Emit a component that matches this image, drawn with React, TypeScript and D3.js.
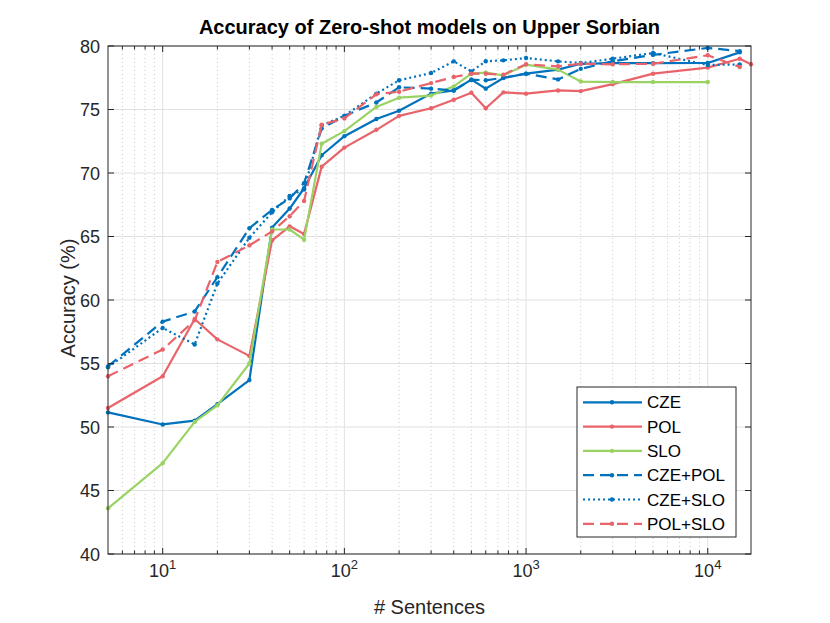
import { useEffect, useRef } from 'react';
import * as d3 from 'd3';

// number of training sentences (x)
const sentences = [5, 10, 15, 20, 30, 40, 50, 60, 75, 100, 150, 200, 300, 400, 500, 600, 750, 1000, 1500, 2000, 3000, 5000, 10000, 15000];
const sentencesPol = [...sentences, 17300];
const sentencesSlo = sentences.slice(0, 23);

// accuracy (%) per model
const cze = [51.15, 50.2, 50.5, 51.8, 53.7, 65.7, 67.2, 68.8, 71.4, 72.9, 74.25, 74.9, 76.25, 76.5, 77.35, 76.64, 77.48, 77.82, 78.14, 78.6, 78.65, 78.65, 78.66, 79.5];
const pol = [51.5, 54.0, 58.5, 56.9, 55.6, 64.7, 65.8, 65.2, 70.5, 72.0, 73.4, 74.5, 75.1, 75.77, 76.32, 75.1, 76.35, 76.25, 76.5, 76.45, 77.0, 77.82, 78.3, 79.0, 78.56];
const slo = [43.6, 47.15, 50.4, 51.7, 55.0, 65.55, 65.55, 64.75, 72.3, 73.3, 75.2, 75.93, 76.1, 76.82, 77.82, 77.9, 77.69, 78.53, 78.14, 77.2, 77.16, 77.16, 77.16];
const czePol = [54.77, 58.3, 59.1, 61.8, 65.65, 67.1, 68.0, 69.2, 73.5, 74.5, 75.55, 76.75, 76.64, 76.5, 77.35, 77.3, 77.5, 77.82, 77.37, 78.2, 78.8, 79.3, 79.85, 79.6];
const czeSlo = [54.7, 57.8, 56.5, 61.3, 64.9, 66.9, 68.2, 68.7, 73.75, 74.5, 76.25, 77.3, 77.87, 78.79, 78.0, 78.8, 78.87, 79.05, 78.79, 78.66, 79.0, 79.45, 78.5, 78.55];
const polSlo = [54.0, 56.1, 58.4, 63.0, 64.3, 65.4, 66.6, 67.8, 73.8, 74.3, 76.2, 76.4, 77.08, 77.56, 77.82, 77.82, 77.74, 78.56, 78.4, 78.6, 78.56, 78.6, 79.27, 78.35];

const legendLabels = ['CZE', 'POL', 'SLO', 'CZE+POL', 'CZE+SLO', 'POL+SLO'];
const yTicks = [40, 45, 50, 55, 60, 65, 70, 75, 80];
const xExponents = [1, 2, 3, 4];

const BLUE = '#0072BD';
const RED = '#E9636A';
const GREEN = '#9BD264';
const AX = '#262626';
const FONT = '"Liberation Sans", Arial, Helvetica, sans-serif';

export default function App() {
  const ref = useRef<SVGSVGElement>(null);

  useEffect(() => {
    if (!ref.current) return;
    const svg = d3.select(ref.current);
    svg.selectAll('*').remove();

    const left = 108, right = 751, top = 46, bottom = 554;
    const x = d3.scaleLog().domain([5, 17300]).range([left, right]);
    const y = d3.scaleLinear().domain([40, 80]).range([bottom, top]);

    svg.append('rect').attr('width', 830).attr('height', 623).attr('fill', '#fff');

    // minor x positions (log)
    const minors: number[] = [];
    for (let n = 0; n <= 4; n++) {
      for (let k = 2; k <= 9; k++) {
        const v = k * Math.pow(10, n);
        if (v > 5 && v < 17300) minors.push(v);
      }
    }
    const majors = xExponents.map(e => Math.pow(10, e));

    const grid = svg.append('g');
    grid.selectAll('line.minor')
      .data(minors)
      .enter()
      .append('line')
      .attr('x1', d => x(d)).attr('x2', d => x(d))
      .attr('y1', top).attr('y2', bottom)
      .attr('stroke', '#bdbdbd')
      .attr('stroke-width', 0.8)
      .attr('stroke-dasharray', '1,3');
    grid.selectAll('line.majx')
      .data(majors)
      .enter()
      .append('line')
      .attr('x1', d => x(d)).attr('x2', d => x(d))
      .attr('y1', top).attr('y2', bottom)
      .attr('stroke', '#e1e1e1')
      .attr('stroke-width', 1);
    grid.selectAll('line.majy')
      .data(yTicks)
      .enter()
      .append('line')
      .attr('x1', left).attr('x2', right)
      .attr('y1', d => y(d)).attr('y2', d => y(d))
      .attr('stroke', '#e1e1e1')
      .attr('stroke-width', 1);

    // series
    const series = [
      { xs: sentences, ys: cze, color: BLUE, dash: null },
      { xs: sentencesPol, ys: pol, color: RED, dash: null },
      { xs: sentencesSlo, ys: slo, color: GREEN, dash: null },
      { xs: sentences, ys: czePol, color: BLUE, dash: '11,6' },
      { xs: sentences, ys: czeSlo, color: BLUE, dash: '2,3' },
      { xs: sentences, ys: polSlo, color: RED, dash: '11,6' },
    ];
    const line = d3.line<[number, number]>().x(d => x(d[0])).y(d => y(d[1]));

    series.forEach(s => {
      const pts: [number, number][] = s.xs.map((v, i) => [v, s.ys[i]]);
      svg.append('path')
        .datum(pts)
        .attr('d', line)
        .attr('fill', 'none')
        .attr('stroke', s.color)
        .attr('stroke-width', 2.2)
        .attr('stroke-linejoin', 'round')
        .attr('stroke-dasharray', s.dash);
      svg.append('g')
        .selectAll('circle')
        .data(pts)
        .enter()
        .append('circle')
        .attr('cx', d => x(d[0]))
        .attr('cy', d => y(d[1]))
        .attr('r', 2.2)
        .attr('fill', s.color);
    });

    // box + ticks
    const axis = svg.append('g').attr('stroke', AX).attr('stroke-width', 1);
    axis.append('rect')
      .attr('x', left).attr('y', top)
      .attr('width', right - left).attr('height', bottom - top)
      .attr('fill', 'none');
    yTicks.forEach(t => {
      axis.append('line').attr('x1', left).attr('x2', left + 6).attr('y1', y(t)).attr('y2', y(t));
      axis.append('line').attr('x1', right).attr('x2', right - 6).attr('y1', y(t)).attr('y2', y(t));
    });
    majors.forEach(t => {
      axis.append('line').attr('x1', x(t)).attr('x2', x(t)).attr('y1', bottom).attr('y2', bottom - 6);
      axis.append('line').attr('x1', x(t)).attr('x2', x(t)).attr('y1', top).attr('y2', top + 6);
    });
    minors.forEach(t => {
      axis.append('line').attr('x1', x(t)).attr('x2', x(t)).attr('y1', bottom).attr('y2', bottom - 3.5);
      axis.append('line').attr('x1', x(t)).attr('x2', x(t)).attr('y1', top).attr('y2', top + 3.5);
    });

    // tick labels
    svg.append('g')
      .selectAll('text')
      .data(yTicks)
      .enter()
      .append('text')
      .attr('x', left - 8)
      .attr('y', d => y(d) + 6.5)
      .attr('text-anchor', 'end')
      .style('font-family', FONT)
      .style('font-size', '18px')
      .style('fill', AX)
      .text(d => d);

    xExponents.forEach(e => {
      const t = svg.append('text')
        .attr('x', x(Math.pow(10, e)))
        .attr('y', 577)
        .attr('text-anchor', 'middle')
        .style('font-family', FONT)
        .style('font-size', '18px')
        .style('fill', AX);
      t.append('tspan').text('10');
      t.append('tspan').attr('dy', -8).style('font-size', '13px').text(String(e));
    });

    // labels + title
    svg.append('text')
      .attr('x', (left + right) / 2)
      .attr('y', 614)
      .attr('text-anchor', 'middle')
      .style('font-family', FONT)
      .style('font-size', '20px')
      .style('fill', AX)
      .text('# Sentences');
    svg.append('text')
      .attr('transform', `translate(75,${(top + bottom) / 2 - 2}) rotate(-90)`)
      .attr('text-anchor', 'middle')
      .style('font-family', FONT)
      .style('font-size', '20px')
      .style('fill', AX)
      .text('Accuracy (%)');
    svg.append('text')
      .attr('x', (left + right) / 2)
      .attr('y', 34)
      .attr('text-anchor', 'middle')
      .style('font-family', FONT)
      .style('font-size', '20px')
      .style('font-weight', 'bold')
      .style('fill', '#000')
      .text('Accuracy of Zero-shot models on Upper Sorbian');

    // legend
    const lg = svg.append('g');
    lg.append('rect')
      .attr('x', 577).attr('y', 387)
      .attr('width', 159).attr('height', 150)
      .attr('fill', '#fff')
      .attr('stroke', AX)
      .attr('stroke-width', 1);
    legendLabels.forEach((lab, i) => {
      const s = series[i];
      const ly = 402.3 + i * 24.3;
      lg.append('line')
        .attr('x1', 583).attr('x2', 642)
        .attr('y1', ly).attr('y2', ly)
        .attr('stroke', s.color)
        .attr('stroke-width', 2.2)
        .attr('stroke-dasharray', s.dash);
      lg.append('circle').attr('cx', 612).attr('cy', ly).attr('r', 2.2).attr('fill', s.color);
      lg.append('text')
        .attr('x', 647)
        .attr('y', ly + 6)
        .style('font-family', FONT)
        .style('font-size', '17px')
        .style('fill', '#000')
        .text(lab);
    });
  }, []);

  return <svg ref={ref} width={830} height={623} style={{ position: 'absolute', left: 0, top: 0 }} />;
}
